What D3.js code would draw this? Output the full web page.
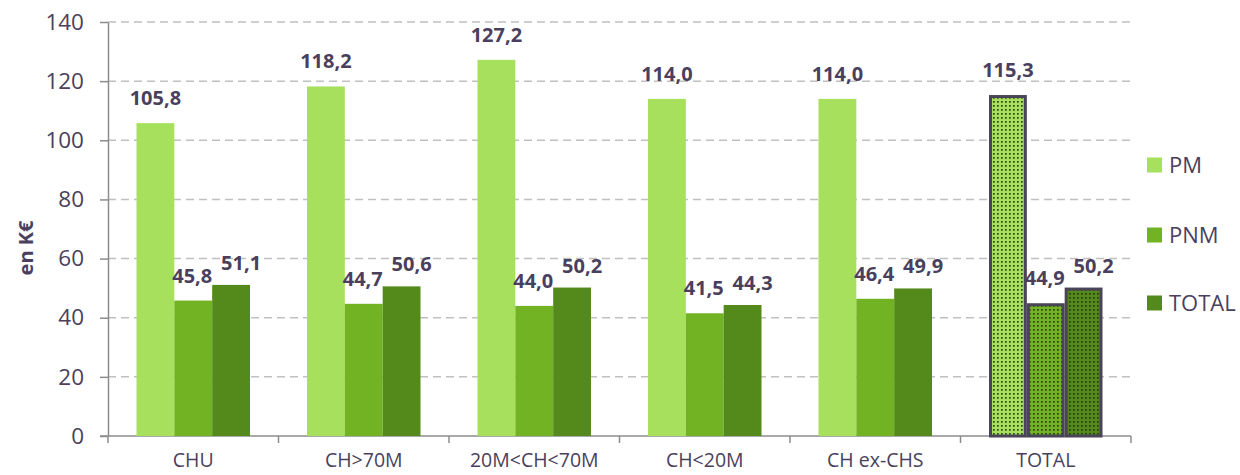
<!DOCTYPE html>
<html><head><meta charset="utf-8">
<script src="https://cdn.jsdelivr.net/npm/d3@7"></script>
<style>body{margin:0;background:#fff}text{font-family:"Open Sans","Noto Sans",sans-serif}</style>
</head><body><svg id="c" width="1240" height="475"></svg>
<script>
const categories = ["CHU","CH>70M","20M<CH<70M","CH<20M","CH ex-CHS","TOTAL"];
const seriesNames = ["PM","PNM","TOTAL"];
const pmValues = [105.8,118.2,127.2,114.0,114.0,115.3];
const pnmValues = [45.8,44.7,44.0,41.5,46.4,44.9];
const totalValues = [51.1,50.6,50.2,44.3,49.9,50.2];
const yTicks = [0,20,40,60,80,100,120,140];
const colors = ["#a6e05c","#72b324","#548a1b"];
const textColor = "#4a3f5c";

const svg = d3.select("#c");
const x0 = 108, x1 = 1131, yTop = 22, yBot = 436;
const x = d3.scaleBand().domain(categories).range([x0,x1]).paddingInner(0).paddingOuter(0);
const inner = d3.scaleBand().domain(seriesNames).range([28.5, x.bandwidth()-28.5]);
const y = d3.scaleLinear().domain([0,140]).range([yBot,yTop]);

// patterns
const defs = svg.append("defs");
colors.forEach((c,i)=>{
  const p = defs.append("pattern").attr("id","pat"+i).attr("patternUnits","userSpaceOnUse")
    .attr("width",4).attr("height",4);
  p.append("rect").attr("width",4).attr("height",4).attr("fill",c);
  p.append("rect").attr("x",1).attr("y",1).attr("width",1.7).attr("height",1.7).attr("fill","#22300c").attr("opacity",0.9);
});

// grid
svg.append("g").selectAll("line").data(yTicks.filter(d=>d>0)).join("line")
  .attr("x1",x0).attr("x2",x1).attr("y1",d=>y(d)).attr("y2",d=>y(d))
  .attr("stroke","#c0c0c0").attr("stroke-width",1.5).attr("stroke-dasharray","8,5");

// y axis
const ya = svg.append("g").attr("transform",`translate(${x0},0)`)
  .call(d3.axisLeft(y).tickValues(yTicks).tickSize(8).tickPadding(10).tickSizeOuter(0));
ya.select(".domain").attr("stroke","#8c8c8c").attr("stroke-width",1.5);
ya.selectAll(".tick line").attr("stroke","#8c8c8c").attr("stroke-width",1.5);
ya.selectAll(".tick text").attr("fill",textColor).attr("font-size",22.5).attr("dx",-6);

// x axis
const xa = svg.append("g").attr("transform",`translate(0,${yBot})`)
  .call(d3.axisBottom(x).tickSize(0).tickPadding(17).tickSizeOuter(0));
xa.select(".domain").attr("stroke","#8c8c8c").attr("stroke-width",1.5).attr("d",`M${x0-8},0H${x1}`);
xa.selectAll(".tick text").attr("fill",textColor).attr("font-size",19.5);
svg.append("g").selectAll("line").data(d3.range(categories.length+1)).join("line")
  .attr("x1",i=>x0+i*x.bandwidth()).attr("x2",i=>x0+i*x.bandwidth())
  .attr("y1",yBot).attr("y2",yBot+7).attr("stroke","#8c8c8c").attr("stroke-width",1.5);

// bars
const allSeries = [pmValues,pnmValues,totalValues];
const labelDx = [0,-1,10];
const labelDy = [18,18,15];
const fmt = v => v.toFixed(1).replace(".",",");
const last = categories.length-1;
allSeries.forEach((vals,si)=>{
  const g = svg.append("g");
  g.selectAll("rect").data(vals).join("rect")
    .attr("x",(d,i)=>x(categories[i])+inner(seriesNames[si]) + (i===last?1.5:0))
    .attr("width",(d,i)=>inner.bandwidth() - (i===last?3:0))
    .attr("y",(d,i)=>y(d) + (i===last?1.5:0))
    .attr("height",(d,i)=>yBot-y(d) - (i===last?1.5:0))
    .attr("fill",(d,i)=> i===last ? `url(#pat${si})` : colors[si])
    .attr("stroke",(d,i)=> i===last ? "#4a4458" : "none")
    .attr("stroke-width",3);
  g.selectAll("text").data(vals).join("text")
    .attr("x",(d,i)=>x(categories[i])+inner(seriesNames[si])+inner.bandwidth()/2 + labelDx[si])
    .attr("y",d=>y(d)-labelDy[si])
    .attr("text-anchor","middle").attr("font-size",20).attr("font-weight","bold")
    .attr("fill",textColor).text(fmt);
});

// y title
svg.append("text").attr("transform","translate(33,248) rotate(-90)")
  .attr("text-anchor","middle").attr("font-size",20).attr("font-weight","bold")
  .attr("fill",textColor).text("en K€");

// legend
const leg = svg.append("g");
const ly = [165,235,303];
seriesNames.forEach((s,i)=>{
  leg.append("rect").attr("x",1147).attr("y",ly[i]-7.5).attr("width",15).attr("height",15).attr("fill",colors[i]);
  leg.append("text").attr("x",1169).attr("y",ly[i]+8).attr("font-size",22).attr("fill",textColor).text(s);
});
</script></body></html>
